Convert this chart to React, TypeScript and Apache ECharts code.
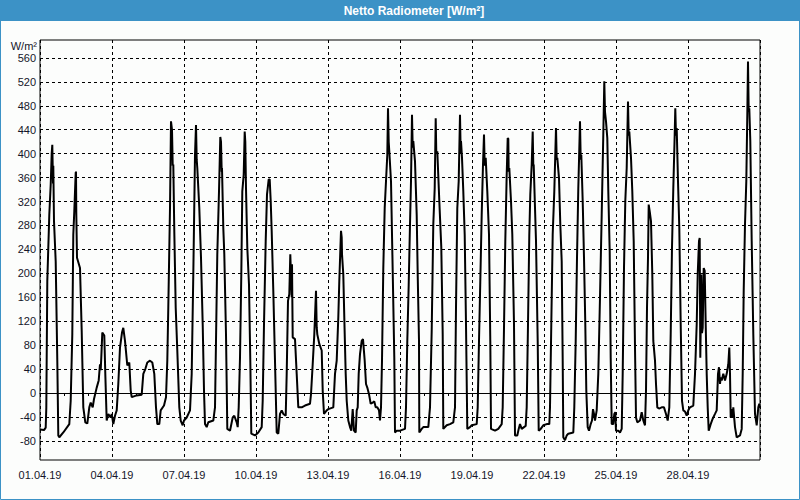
import React, { useEffect, useRef } from "react";
import * as echarts from "echarts";

// Tick labels
const yTicks = [-80, -40, 0, 40, 80, 120, 160, 200, 240, 280, 320, 360, 400, 440, 480, 520, 560];
const dayLabels = ["01.04.19", "04.04.19", "07.04.19", "10.04.19", "13.04.19", "16.04.19", "19.04.19", "22.04.19", "25.04.19", "28.04.19"];

// [hours since 01.04.19 00:00, W/m²]  — 01.04 to 10.04
const april01to10: [number, number][] = [
  [0, -61], [4, -62], [5.7, -58], [6.3, -25], [7.3, 187], [9.3, 298], [10.7, 348], [11.7, 400], [12.3, 415], [13, 350], [13.3, 380],
  [14, 287], [15.7, 220], [17.3, 54], [18.3, -71], [19.3, -74], [23.3, -66], [29.3, -52], [30.7, -13], [32.3, 98], [33.3, 265],
  [34.3, 304], [35.7, 368], [36, 370], [36.3, 300], [37, 226], [40, 209], [41.7, 104], [43.3, -24], [45.3, -49], [47.3, -51],
  [49.3, -24], [50.7, -16], [52.7, -24], [54, -10], [56.7, 9], [58.7, 21], [60, 48], [60.7, 38], [61.3, 60], [62.3, 101],
  [64.3, 96], [65.3, 32], [66.7, -46], [68.3, -35], [70.7, -41], [71.7, -35], [73.3, -52], [75, -38], [76.7, -29], [78.3, 15],
  [80, 76], [82, 101], [83.3, 109], [85, 87], [87.3, 46], [89.3, 51], [90.7, 4], [91.7, -7], [96.7, -4], [101.7, -3],
  [103.3, 32], [105.3, 40], [107.3, 51], [110, 54], [112.3, 51], [114.3, 32], [116, -24], [117.3, -52], [119.3, -52],
  [120.7, -29], [124, -21], [126, -7], [127.3, 54], [128.3, 143], [130, 309], [131, 454], [132, 440], [132.7, 380],
  [133.3, 382], [134.3, 270], [135.7, 143], [137.3, 71], [139.3, -24], [140.7, -46], [142.7, -54], [144, -46], [146.7, -41],
  [150, -29], [151.7, 32], [153.3, 198], [155, 398], [156, 448], [156.7, 390], [157.3, 376], [159.3, 309], [161, 226],
  [162.7, 115], [164, 4], [165, -52], [166.7, -57], [168.3, -49], [173.3, -46], [175, -24], [176, 87], [177.3, 232],
  [179, 337], [180.3, 428], [181, 420], [181.7, 370], [182, 376], [183.3, 276], [184.3, 232], [186, 98], [187.3, -60],
  [190, -63], [192.7, -41], [194.3, -38], [196.7, -49], [197.7, -57], [198.7, -24], [200, 59], [201.3, 198], [202.3, 337],
  [203.7, 365], [204.7, 437], [205.3, 420], [206, 342], [207.3, 243], [209, 181], [210.3, 54], [211.3, -68], [215, -71],
  [218.3, -66], [221.7, -57], [222.7, -13], [224, 115], [225.7, 254], [227, 332], [228.7, 357], [229.7, 357], [230.7, 321],
  [231.7, 270], [233.3, 171], [235.3, 32], [236.7, -66], [238.3, -68],
];

// 11.04 to 20.04
const april11to20: [number, number][] = [
  [240, -35], [241.7, -29], [243.3, -35], [245.7, -38], [246.7, 32], [248, 154], [249.3, 165], [250.3, 232], [251, 232],
  [251.7, 160], [252, 215], [252.7, 93], [255, 90], [256.7, 32], [258.3, -24], [261.7, -24], [265, -21], [270, -18],
  [271, -2], [272.7, 48], [274.3, 98], [276, 171], [276.7, 110], [277.3, 98], [279.3, 82], [281.7, 71], [282.7, 4],
  [284, -35], [286.7, -29], [288.3, -27], [293.3, -24], [295, 32], [296.7, 54], [298.3, 126], [299.3, 187], [301, 271],
  [301.7, 260], [302, 232], [303.3, 198], [304.3, 126], [305.7, 32], [306.7, -13], [308.3, -46], [310, -57], [311.3, -63],
  [312, -45], [312.7, -27], [314, -63], [315.7, -66], [316.7, -29], [317.7, -24], [318.7, 32], [320, 65], [321.7, 87],
  [323, 90], [324.7, 54], [326, 15], [327.3, 9], [329, -2], [330.7, -18], [332.7, -16], [334.3, -14], [335.7, -24],
  [337.3, -24], [339, -29], [340, -46], [341, -24], [342, 54], [343.3, 209], [344.7, 309], [346, 354], [347.3, 398],
  [348, 476], [348.7, 420], [349.3, 404], [351, 354], [352.7, 204], [354.3, 59], [355, -66], [356.7, -63], [360, -63],
  [365, -60], [366, -24], [367.3, 87], [368.7, 181], [370, 282], [371, 354], [372, 465], [372.7, 410], [373.3, 421],
  [375, 387], [376.7, 298], [377.7, 198], [379, 87], [379.3, -66], [381.7, -60], [383.3, -57], [388.3, -57], [390, -24],
  [391.7, 104], [393.3, 282], [394.7, 342], [395.7, 459], [396.3, 400], [397.3, 404], [399.3, 321], [401.3, 243],
  [402.7, 98], [403.3, -60], [406.7, -54], [410, -52], [413.3, -49], [415, -24], [416, 143], [417.3, 309], [418.7, 354],
  [420, 465], [420.7, 400], [421, 421], [422, 393], [423.3, 337], [424.7, 265], [426, 115], [427.3, -60], [430, -57],
  [431.7, -54], [436.7, -52], [437.7, -24], [439, 87], [440.3, 187], [441.7, 298], [443, 382], [444, 432], [444.7, 380],
  [445.7, 393], [447.3, 337], [449, 265], [450.3, 87], [451, -60], [455, -63], [458.3, -60], [461.7, -52], [462.7, -24],
  [464, 109], [465.3, 254], [466.7, 365], [467.7, 426], [468.3, 425], [468.7, 370], [469.3, 376], [471, 321], [472.3, 265],
  [474, 115], [475, -71], [477.3, -71], [478.7, -60],
];

// 21.04 to 30.04
const april21to30: [number, number][] = [
  [480, -52], [481.7, -60], [484, -57], [485.7, -55], [486.7, -24], [488, 115], [489.3, 265], [490.3, 332], [491.7, 382],
  [492.7, 437], [493.3, 380], [493.7, 382], [494.7, 326], [496, 254], [497.7, 87], [498.7, -63], [500.7, -60], [503.3, -54],
  [506.7, -52], [509.3, -52], [510, -24], [511.3, 115], [512.7, 265], [514.3, 337], [516, 443], [516.7, 390], [517.3, 393],
  [519, 359], [520.3, 282], [521.7, 220], [522.7, 54], [523.3, -74], [525, -79], [526.7, -71], [528.3, -68], [533.3, -66],
  [534.3, -24], [535.7, 87], [537, 226], [538.3, 342], [540, 454], [540.7, 390], [541.3, 398], [542.7, 321], [544, 226],
  [545.3, 115], [546.3, 4], [547.7, -57], [549, -63], [550.7, -52], [552, -46], [553, -27], [554, -35], [555, -46],
  [556.7, -29], [558.3, 32], [560, 160], [561.7, 298], [563.3, 432], [564.3, 521], [565, 470], [566, 454], [567.3, 426],
  [568.3, 337], [569.7, 237], [570.7, 59], [571.7, -52], [573.3, -52], [574.3, -35], [575.3, -32], [576, -63], [578.3, -63],
  [580, -66], [581.7, -60], [582.7, 32], [584, 209], [585.3, 321], [586.7, 376], [588, 487], [588.7, 430], [589.3, 437],
  [591, 393], [592.3, 337], [593.7, 254], [595, 76], [596, -41], [597.3, -49], [600, -46], [601.7, -32], [603.3, -46],
  [605, -54], [606, 4], [607, 143], [608, 226], [608.7, 315], [610, 300], [611, 287], [612.3, 198], [613.3, 87], [615, 54],
  [616, 15], [617.3, -24], [619, -26], [621.7, -24], [624, -24], [626, -35], [627.7, -46], [629.3, -24], [630.7, 98],
  [632, 243], [633.3, 342], [634.7, 432], [635.3, 476], [636, 430], [636.7, 443], [638, 354], [639.3, 276], [640.7, 115],
  [642, -13], [643.3, -29], [645, -31], [646.7, -38], [648.3, -29], [650, -24], [653.3, -21], [655, 32], [656.7, 115],
  [657.7, 198], [659, 254], [659.7, 259], [660.3, 59], [661, 140], [661.3, 198], [662, 100], [662.7, 109], [663.7, 209],
  [664.7, 204], [665.7, 115], [666.7, 32], [667.7, -24], [668.7, -63], [670.7, -52], [672.7, -43], [675, -35], [676.7, -29],
  [678, 32], [679, 43], [680, 15], [680.7, 26], [681.7, 21], [683.3, 32], [685, 21], [686.7, 32], [688.3, 48], [689.3, 76],
  [690, 32], [690.7, -41], [691.7, -27], [692.7, -41], [693.3, -24], [695, -57], [696.7, -74], [700, -71], [701.7, -60],
  [702.7, 32], [703.7, 171], [705, 282], [706.3, 354], [707.3, 465], [708, 554], [708.7, 470], [709.3, 476], [710.3, 421],
  [711.7, 254], [713.3, 98], [715, -35], [716.7, -54], [718.3, -24], [719.3, -18], [720, -25],
];

const BLUE = "#3c92c6";
const TEXT = "#15152a";
const FONT = "Liberation Sans";

export default function App() {
  const ref = useRef<HTMLDivElement>(null);

  useEffect(() => {
    if (!ref.current) return;
    const chart = echarts.init(ref.current, undefined, { renderer: "svg" });
    const data = [...april01to10, ...april11to20, ...april21to30];
    chart.setOption({
      animation: false,
      backgroundColor: "#fcfdfc",
      graphic: [
        { type: "rect", left: 0, top: 0, shape: { x: 0, y: 0, width: 800, height: 21 }, style: { fill: BLUE }, z: 0 },
        {
          type: "rect",
          shape: { x: 0.5, y: 0.5, width: 799, height: 499 },
          style: { fill: "none", stroke: BLUE, lineWidth: 1 },
          z: 0,
        },
        {
          type: "text",
          x: 414,
          y: 11,
          style: {
            text: "Netto Radiometer [W/m²]",
            fill: "#ffffff",
            font: `bold 12px "${FONT}"`,
            align: "center",
            verticalAlign: "middle",
          },
          z: 10,
        },
        {
          type: "text",
          x: 37,
          y: 46,
          style: {
            text: "W/m²",
            fill: TEXT,
            font: `11px "${FONT}"`,
            align: "right",
            verticalAlign: "middle",
          },
          z: 10,
        },
      ],
      grid: {
        left: 40,
        top: 40,
        right: 40,
        bottom: 40,
        show: true,
        borderColor: "#000",
        borderWidth: 1,
        backgroundColor: "transparent",
      },
      xAxis: [
        {
          type: "value",
          min: 0,
          max: 720,
          interval: 24,
          position: "bottom",
          axisLine: { show: true, lineStyle: { color: "#000", width: 1 } },
          axisTick: { show: true, length: 3, lineStyle: { color: "#000" } },
          axisLabel: { show: false },
          splitLine: { show: false },
        },
        {
          type: "value",
          min: 0,
          max: 720,
          interval: 72,
          position: "bottom",
          axisLine: { show: false },
          axisTick: { show: false },
          axisLabel: {
            show: true,
            margin: 9,
            fontSize: 11,
            fontFamily: FONT,
            color: TEXT,
            showMaxLabel: false,
            formatter: (v: number) => dayLabels[Math.round(v / 72)] ?? "",
          },
          splitLine: { show: true, lineStyle: { color: "#000", type: [3, 3], width: 1 } },
        },
      ],
      yAxis: {
        type: "value",
        min: -112,
        max: 590,
        axisLine: { show: false },
        axisTick: { show: false, customValues: yTicks },
        axisLabel: {
          show: true,
          customValues: yTicks,
          margin: 4,
          fontSize: 11,
          fontFamily: FONT,
          color: TEXT,
        },
        splitLine: { show: true, lineStyle: { color: "#000", type: [3, 3], width: 1 } },
      },
      series: [
        {
          type: "line",
          xAxisIndex: 0,
          yAxisIndex: 0,
          data,
          showSymbol: false,
          symbol: "none",
          lineStyle: { color: "#000", width: 2 },
          z: 5,
        },
      ],
    });
    return () => chart.dispose();
  }, []);

  return (
    <div
      ref={ref}
      style={{ position: "fixed", left: 0, top: 0, width: 800, height: 500 }}
    />
  );
}
